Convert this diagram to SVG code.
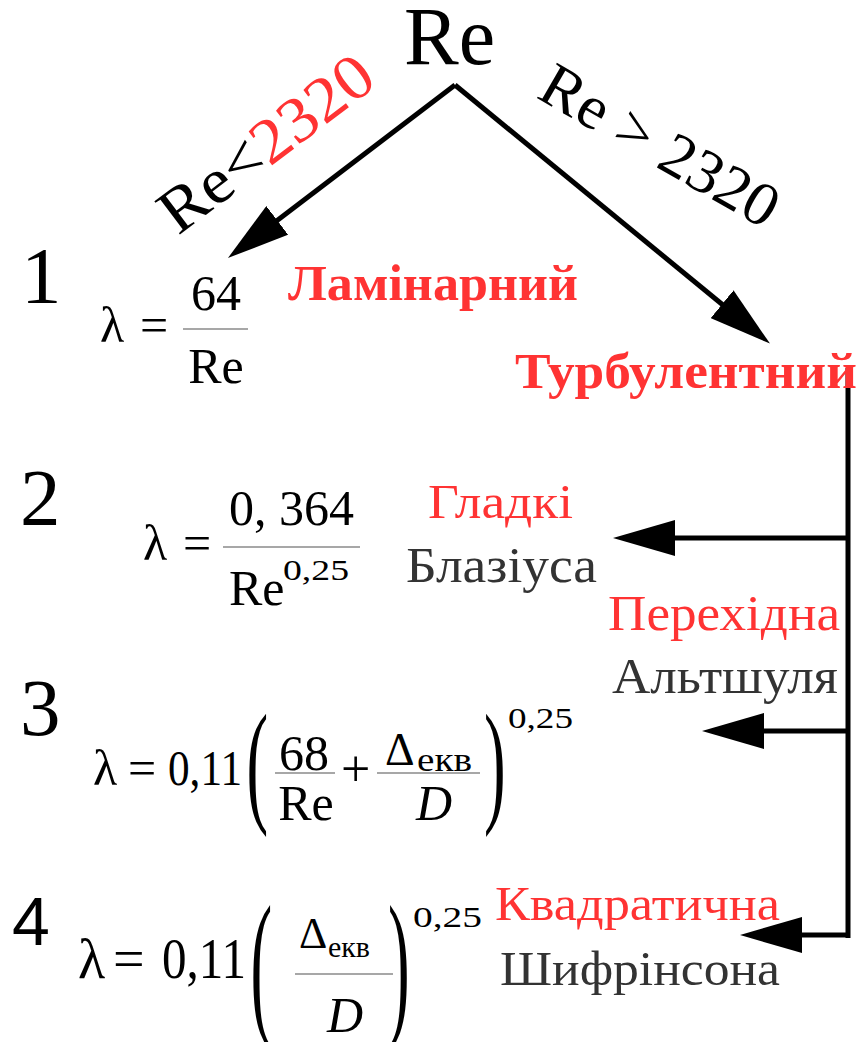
<svg xmlns="http://www.w3.org/2000/svg" width="859" height="1042" viewBox="0 0 859 1042">
<defs>
<marker id="ah" markerUnits="userSpaceOnUse" viewBox="0 0 62 36" markerWidth="62" markerHeight="36" refX="50" refY="18" orient="auto">
<path d="M0,0 L62,18 L0,36 z" fill="#000"/>
</marker>
</defs>
<rect width="859" height="1042" fill="#fff"/>

<g id="edges" stroke="#000" stroke-width="5" fill="none">
<line x1="455" y1="85" x2="237.5" y2="250.7" marker-end="url(#ah)"/>
<line x1="455" y1="85" x2="760.7" y2="336" marker-end="url(#ah)"/>
<line x1="848" y1="368" x2="848" y2="938"/>
<line x1="850" y1="538" x2="625" y2="538" marker-end="url(#ah)"/>
<line x1="850" y1="731" x2="714" y2="731" marker-end="url(#ah)"/>
<line x1="850" y1="935" x2="752" y2="935" marker-end="url(#ah)"/>
</g>

<g id="root">
<text style="font-family:'Liberation Serif',serif" fill="#000" x="404" y="64" font-size="82">Re</text>
</g>

<g id="cond-laminar">
<text style="font-family:'Liberation Serif',serif" fill="#000" transform="translate(178,236) rotate(-37)" font-size="64" textLength="252" lengthAdjust="spacingAndGlyphs">Re&lt;<tspan fill="#ff3333">2320</tspan></text>
</g>

<g id="cond-turbulent">
<text style="font-family:'Liberation Serif',serif" fill="#000" transform="translate(535,97) rotate(30)" font-size="62" textLength="265" lengthAdjust="spacingAndGlyphs">Re &gt; 2320</text>
</g>

<g id="node-1">
<text style="font-family:'Liberation Serif',serif" fill="#000" x="21" y="303" font-size="81">1</text>
<text style="font-family:'Liberation Serif',serif" fill="#000" x="100" y="342" font-size="50">λ</text>
<text style="font-family:'Liberation Serif',serif" fill="#000" x="140" y="342" font-size="50">=</text>
<text style="font-family:'Liberation Serif',serif" fill="#000" x="216" y="310" font-size="50" text-anchor="middle">64</text>
<line stroke="#8a8a8a" stroke-width="1.6" x1="183" y1="329" x2="248" y2="329"/>
<text style="font-family:'Liberation Serif',serif" fill="#000" x="216" y="383" font-size="50" text-anchor="middle">Re</text>
<text style="font-family:'Liberation Serif',serif" fill="#ff3333" font-weight="bold" x="288" y="300" font-size="50" textLength="290" lengthAdjust="spacingAndGlyphs">Ламінарний</text>
</g>

<g id="node-turbulent">
<text style="font-family:'Liberation Serif',serif" fill="#ff3333" font-weight="bold" x="515" y="388" font-size="50" textLength="342" lengthAdjust="spacingAndGlyphs">Турбулентний</text>
</g>

<g id="node-2">
<text style="font-family:'Liberation Serif',serif" fill="#000" x="20" y="525" font-size="81">2</text>
<text style="font-family:'Liberation Serif',serif" fill="#000" x="143" y="560" font-size="50">λ</text>
<text style="font-family:'Liberation Serif',serif" fill="#000" x="183" y="560" font-size="50">=</text>
<text style="font-family:'Liberation Serif',serif" fill="#000" x="229" y="525" font-size="50">0, 364</text>
<line stroke="#8a8a8a" stroke-width="1.6" x1="223" y1="547" x2="360" y2="547"/>
<text style="font-family:'Liberation Serif',serif" fill="#000" x="229" y="605" font-size="50">Re</text>
<text style="font-family:'Liberation Serif',serif" fill="#000" x="283" y="580" font-size="30" textLength="66" lengthAdjust="spacingAndGlyphs">0,25</text>
<text style="font-family:'Liberation Serif',serif" fill="#ff3333" x="428" y="518" font-size="48" textLength="145" lengthAdjust="spacingAndGlyphs">Гладкі</text>
<text style="font-family:'Liberation Serif',serif" fill="#333333" x="406" y="582" font-size="50" textLength="191" lengthAdjust="spacingAndGlyphs">Блазіуса</text>
</g>

<g id="node-3">
<text style="font-family:'Liberation Serif',serif" fill="#ff3333" x="608" y="630" font-size="50" textLength="232" lengthAdjust="spacingAndGlyphs">Перехідна</text>
<text style="font-family:'Liberation Serif',serif" fill="#333333" x="612" y="693" font-size="50" textLength="226" lengthAdjust="spacingAndGlyphs">Альтшуля</text>
<text style="font-family:'Liberation Serif',serif" fill="#000" x="20" y="735" font-size="81">3</text>
<text style="font-family:'Liberation Serif',serif" fill="#000" x="93" y="785" font-size="50">λ</text>
<text style="font-family:'Liberation Serif',serif" fill="#000" x="128" y="785" font-size="50">=</text>
<text style="font-family:'Liberation Serif',serif" fill="#000" x="168" y="785" font-size="50" textLength="74" lengthAdjust="spacingAndGlyphs">0,11</text>
<text style="font-family:'Liberation Serif',serif" fill="#000" transform="translate(246.6,808.2) scale(1.3,2.69)" font-size="50">(</text>
<text style="font-family:'Liberation Serif',serif" fill="#000" x="304" y="770" font-size="50" text-anchor="middle">68</text>
<line stroke="#8a8a8a" stroke-width="1.6" x1="275" y1="773" x2="335" y2="773"/>
<text style="font-family:'Liberation Serif',serif" fill="#000" x="306" y="820" font-size="50" text-anchor="middle">Re</text>
<text style="font-family:'Liberation Serif',serif" fill="#000" x="341" y="786" font-size="52">+</text>
<text style="font-family:'Liberation Serif',serif" fill="#000" x="385" y="765" font-size="46">Δ</text>
<text style="font-family:'Liberation Serif',serif" fill="#000" x="417" y="771" font-size="34" textLength="55" lengthAdjust="spacingAndGlyphs">екв</text>
<line stroke="#8a8a8a" stroke-width="1.6" x1="377" y1="773" x2="480" y2="773"/>
<text style="font-family:'Liberation Serif',serif;font-style:italic" fill="#000" x="434" y="820" font-size="50" text-anchor="middle">D</text>
<text style="font-family:'Liberation Serif',serif" fill="#000" transform="translate(484,808.2) scale(1.3,2.69)" font-size="50">)</text>
<text style="font-family:'Liberation Serif',serif" fill="#000" x="508" y="728" font-size="30" textLength="65" lengthAdjust="spacingAndGlyphs">0,25</text>
</g>

<g id="node-4">
<text style="font-family:'Liberation Sans',sans-serif" fill="#000" x="12" y="945" font-size="68">4</text>
<text style="font-family:'Liberation Serif',serif" fill="#000" x="78" y="978" font-size="56">λ</text>
<text style="font-family:'Liberation Serif',serif" fill="#000" x="113" y="978" font-size="56">=</text>
<text style="font-family:'Liberation Serif',serif" fill="#000" x="162" y="978" font-size="56" textLength="84" lengthAdjust="spacingAndGlyphs">0,11</text>
<text style="font-family:'Liberation Serif',serif" fill="#000" transform="translate(250.6,1016.5) scale(1.3,3.21)" font-size="50">(</text>
<text style="font-family:'Liberation Serif',serif" fill="#000" x="299" y="948" font-size="44">Δ</text>
<text style="font-family:'Liberation Serif',serif" fill="#000" x="328" y="957" font-size="30" textLength="42" lengthAdjust="spacingAndGlyphs">екв</text>
<line stroke="#8a8a8a" stroke-width="1.6" x1="295" y1="974" x2="393" y2="974"/>
<text style="font-family:'Liberation Serif',serif;font-style:italic" fill="#000" x="345" y="1032" font-size="50" text-anchor="middle">D</text>
<text style="font-family:'Liberation Serif',serif" fill="#000" transform="translate(388,1016.5) scale(1.3,3.21)" font-size="50">)</text>
<text style="font-family:'Liberation Serif',serif" fill="#000" x="413" y="927" font-size="30" textLength="69" lengthAdjust="spacingAndGlyphs">0,25</text>
<text style="font-family:'Liberation Serif',serif" fill="#ff3333" x="495" y="920" font-size="48" textLength="285" lengthAdjust="spacingAndGlyphs">Квадратична</text>
<text style="font-family:'Liberation Serif',serif" fill="#333333" x="500" y="985" font-size="48" textLength="280" lengthAdjust="spacingAndGlyphs">Шифрінсона</text>
</g>
</svg>
